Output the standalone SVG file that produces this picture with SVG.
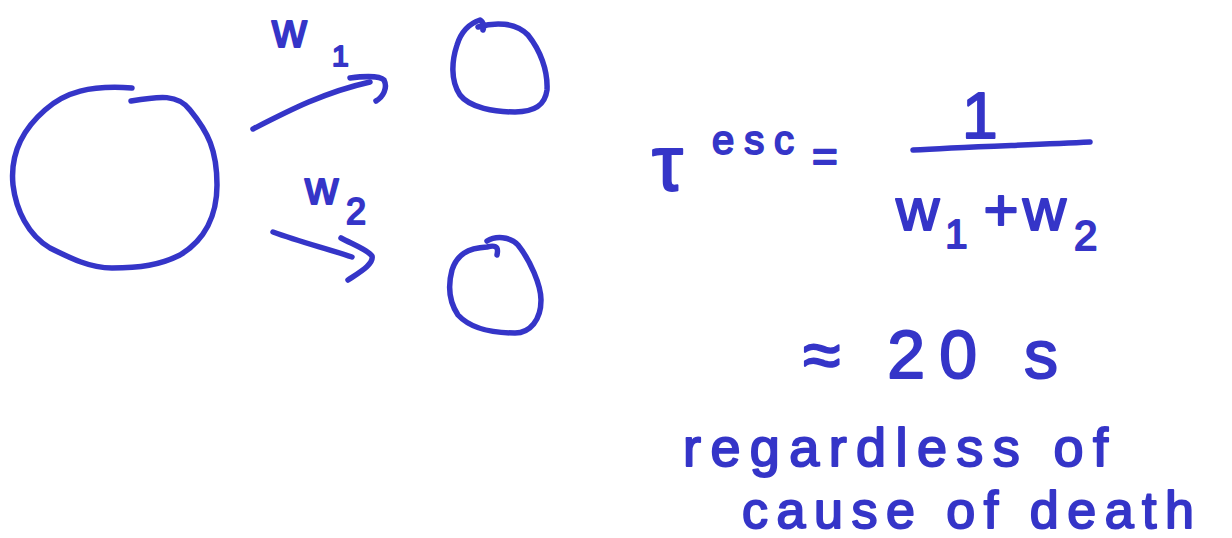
<svg xmlns="http://www.w3.org/2000/svg" width="1232" height="538" viewBox="0 0 1232 538">
<style>
.ink{fill:none;stroke:#3535c8;stroke-width:5.5;stroke-linecap:round;stroke-linejoin:round}
.t{fill:#3535c8;font-family:"Liberation Sans","DejaVu Sans",sans-serif;stroke:#3535c8;stroke-width:2;stroke-linejoin:round}
</style>
<rect width="1232" height="538" fill="#fff"/>
<g id="node-source">
<path class="ink" d="M131,101 C160,96 178,94 190,110 C208,132 217,150 217,185 C217,215 205,240 180,255 C160,265 140,268 112,268 C90,268 70,258 50,248 C28,235 16,210 13,185 C10,155 22,130 45,110 C65,92 90,85 132,88"/>
</g>
<g id="node-target1">
<path class="ink" d="M478,27 C495,22 515,22 528,35 C540,50 548,70 547,90 C545,105 535,112 515,112 C495,112 470,108 460,95 C450,80 452,60 457,45 C461,32 468,24 480,20 C484,22 484,28 483,30"/>
</g>
<g id="node-target2">
<path class="ink" d="M487,241 C495,236 510,236 518,245 C530,260 541,285 541,300 C541,320 530,333 515,333 C490,333 470,328 458,315 C448,300 448,285 452,270 C457,255 467,248 487,247 C499,244 498,250 497,255"/>
</g>
<g id="connectors">
<path class="ink" d="M253,129 C290,110 325,92 370,82"/>
<path class="ink" d="M350,78 C365,76 380,76 384,80 C388,88 383,97 376,101"/>
<path class="ink" d="M273,232 C300,242 325,248 352,257"/>
<path class="ink" d="M341,238 C352,244 368,250 372,256 C374,264 360,272 348,280"/>
</g>
<g id="labels">
<text class="t" x="272" y="47" font-size="48">w</text>
<text class="t" x="332" y="66" font-size="30">1</text>
<text class="t" x="305" y="204" font-size="46">w</text>
<text class="t" x="346" y="224" font-size="36">2</text>
</g>
<g id="formula">
<text class="t" x="652" y="190" font-size="78">τ</text>
<text class="t" x="712" y="154" font-size="40" textLength="82" lengthAdjust="spacing">esc</text>
<text class="t" x="812" y="172" font-size="44">=</text>
<text class="t" x="962" y="138" font-size="64">1</text>
<path class="ink" d="M913,150 C960,147 1030,145 1090,142"/>
<text class="t" x="896" y="230" font-size="60">w<tspan font-size="40" dx="6" dy="18">1</tspan><tspan dx="16" dy="-18">+</tspan><tspan dx="4">w</tspan><tspan font-size="42" dx="8" dy="20">2</tspan></text>
<text class="t" x="803" y="378" font-size="68" textLength="255" lengthAdjust="spacing">≈ 20 s</text>
<text class="t" x="683" y="466" font-size="54" textLength="425" lengthAdjust="spacing">regardless of</text>
<text class="t" x="742" y="528" font-size="52" textLength="452" lengthAdjust="spacing">cause of death</text>
</g>
</svg>
